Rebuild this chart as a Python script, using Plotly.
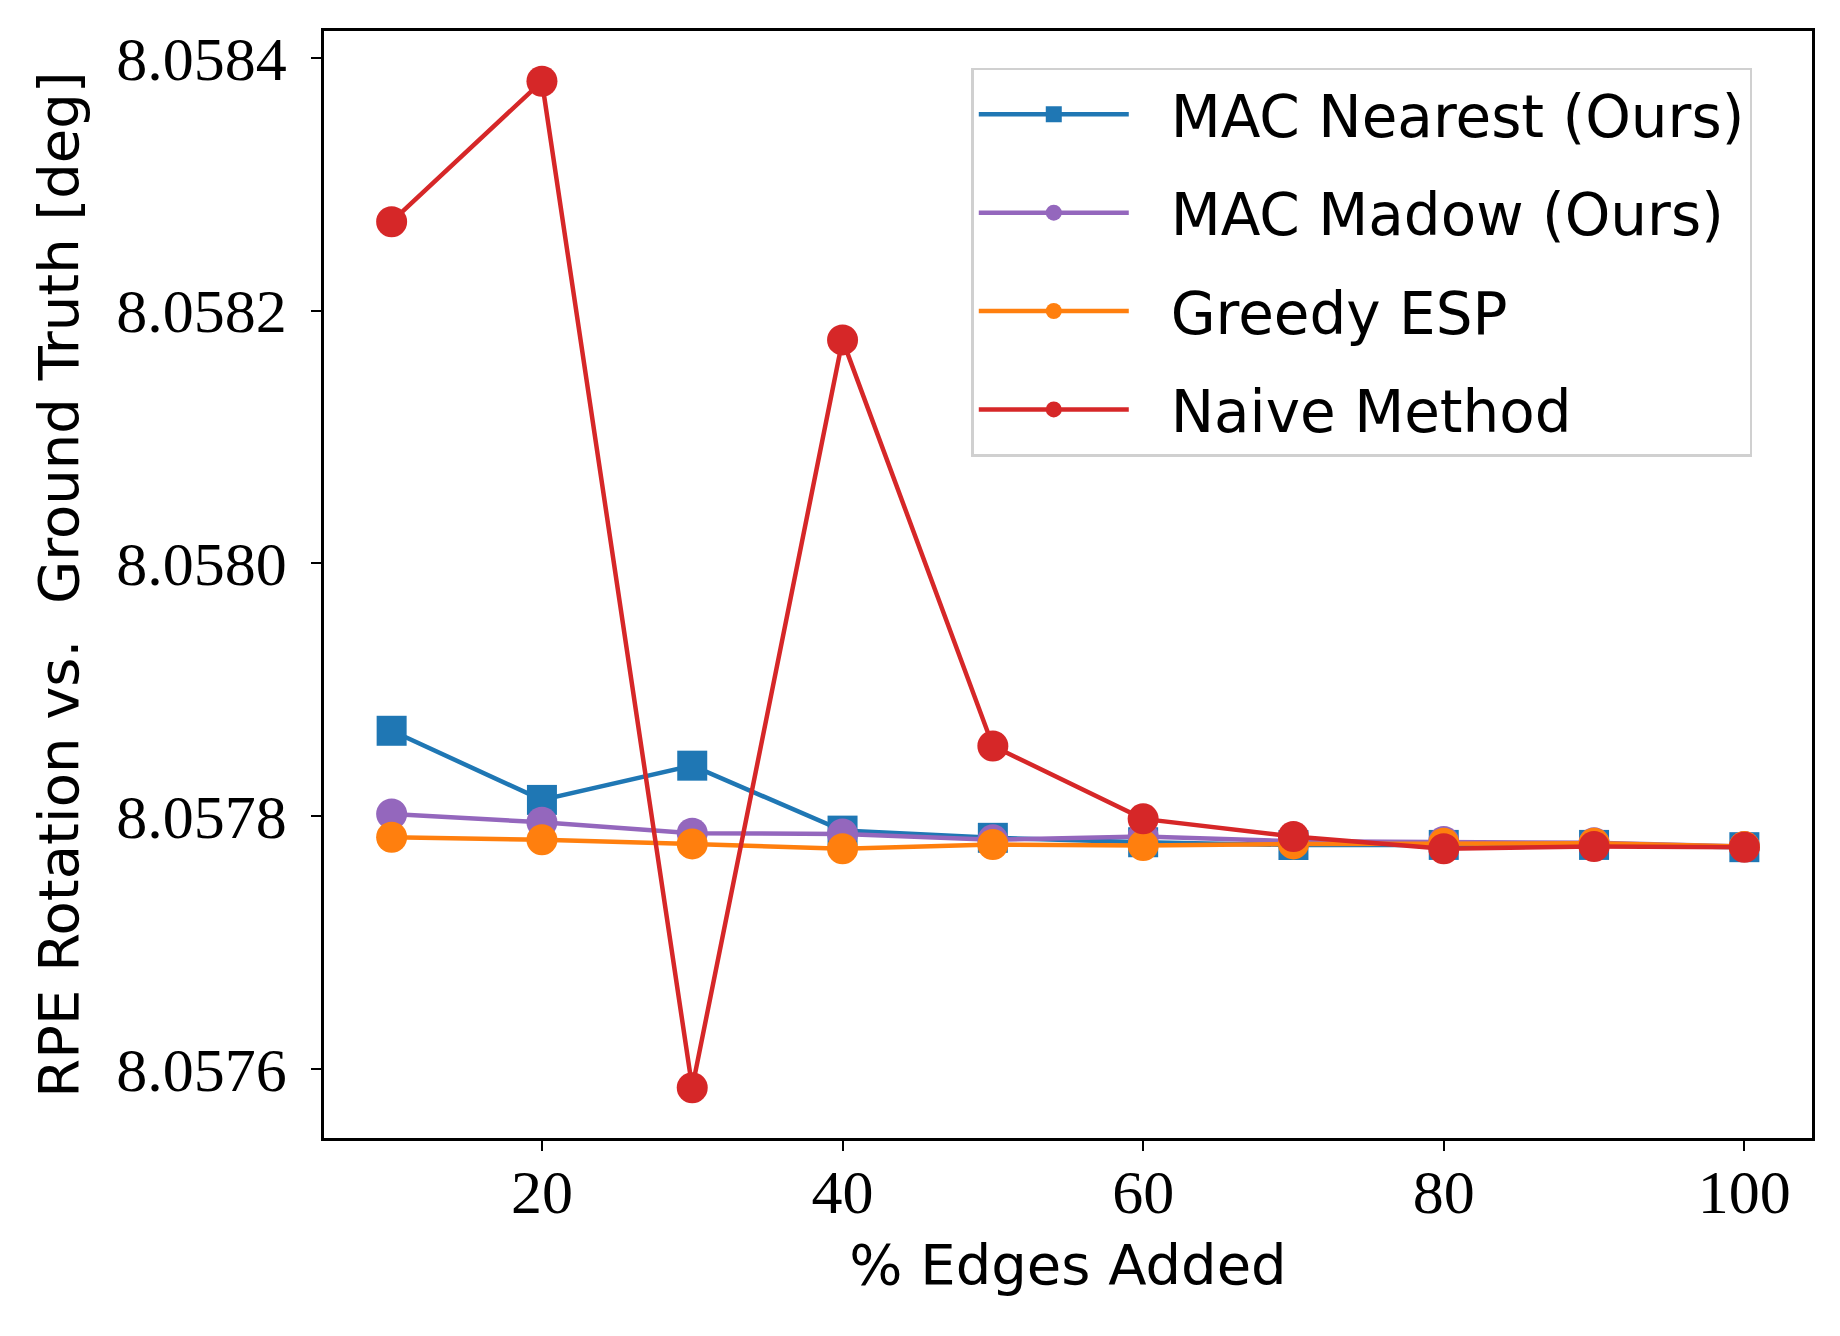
import plotly.graph_objects as go

# % edges added
edges = [10, 20, 30, 40, 50, 60, 70, 80, 90, 100]

# RPE rotation vs ground truth [deg]
mac_nearest = [8.0578676, 8.0578129, 8.0578400, 8.0577886, 8.0577829,
               8.0577794, 8.0577772, 8.0577773, 8.0577773, 8.0577755]
mac_madow = [8.0578018, 8.0577952, 8.0577865, 8.0577860, 8.0577813,
             8.0577839, 8.0577802, 8.0577800, 8.0577790, 8.0577760]
greedy_esp = [8.0577833, 8.0577813, 8.0577781, 8.0577742, 8.0577776,
              8.0577768, 8.0577781, 8.0577786, 8.0577786, 8.0577760]
naive = [8.0582704, 8.0583815, 8.0575852, 8.0581769, 8.0578556,
         8.0577979, 8.0577839, 8.0577742, 8.0577760, 8.0577755]

series = [
    ("MAC Nearest (Ours)", mac_nearest, "#1f77b4", "square"),
    ("MAC Madow (Ours)", mac_madow, "#9467bd", "circle"),
    ("Greedy ESP", greedy_esp, "#ff7f0e", "circle"),
    ("Naive Method", naive, "#d62728", "circle"),
]

SERIF = "Liberation Serif, DejaVu Serif, serif"
SANS = "DejaVu Sans, Noto Sans, sans-serif"
GAP = "\u00a0\u00a0"  # a bit of room between legend sample and text

fig = go.Figure()
for name, vals, col, sym in series:
    fig.add_trace(go.Scatter(
        x=edges, y=vals, name=GAP + name, legendgroup=name, mode="lines+markers",
        line=dict(color=col, width=4.5),
        marker=dict(color=col, symbol=sym, size=30 if sym == "square" else 31,
                    line=dict(width=0)),
    ))

# matplotlib style 5% margins
ymin, ymax = min(naive), max(naive)
pad = (ymax - ymin) * 0.05

fig.update_layout(
    width=1840, height=1336,
    margin=dict(l=316, r=36, t=23, b=206),
    paper_bgcolor="white", plot_bgcolor="white",
    showlegend=True,
    legend=dict(
        x=0.435, y=0.967, xanchor="left", yanchor="top",
        bgcolor="rgba(255,255,255,0.8)", bordercolor="#d0d0d0", borderwidth=2.5,
        font=dict(family=SANS, size=58, color="black"),
        itemwidth=150, tracegroupgap=20,
    ),
)
fig.update_xaxes(
    range=[5.5, 104.5], tickvals=[20, 40, 60, 80, 100],
    ticks="outside", ticklen=10, tickwidth=2, tickcolor="black",
    ticklabelstandoff=-12,
    showline=True, linecolor="black", linewidth=2.5, mirror=True,
    showgrid=False, zeroline=False,
    tickfont=dict(family=SERIF, size=62, color="black"),
    title=dict(text="% Edges Added", font=dict(family=SANS, size=56, color="black"),
               standoff=20),
)
fig.update_yaxes(
    range=[ymin - pad, ymax + pad], tick0=8.0576, dtick=0.0002, tickformat=".4f",
    ticks="outside", ticklen=10, tickwidth=2, tickcolor="black",
    ticklabelstandoff=12,
    showline=True, linecolor="black", linewidth=2.5, mirror=True,
    showgrid=False, zeroline=False,
    tickfont=dict(family=SERIF, size=62, color="black"),
    title=dict(text="RPE Rotation vs.  Ground Truth [deg]",
               font=dict(family=SANS, size=56, color="black"), standoff=20),
)

fig.write_html("out.html")
